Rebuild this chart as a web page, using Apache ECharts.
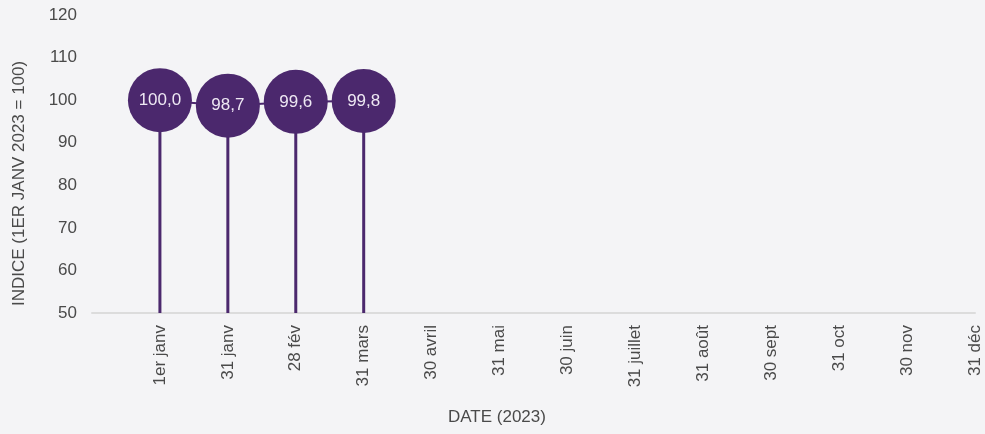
<!DOCTYPE html>
<html>
<head>
<meta charset="utf-8">
<script src="https://cdn.jsdelivr.net/npm/echarts@6/dist/echarts.min.js"></script>
<style>
  html, body { margin: 0; padding: 0; background: #f4f4f6; }
  #chart { width: 985px; height: 434px; }
</style>
</head>
<body>
<div id="chart"></div>
<script>
const categories = ['', '1er janv', '31 janv', '28 fév', '31 mars', '30 avril', '31 mai', '30 juin', '31 juillet', '31 août', '30 sept', '31 oct', '30 nov', '31 déc'];
const indexValues = ['-', 100.0, 98.7, 99.6, 99.8, '-', '-', '-', '-', '-', '-', '-', '-', '-'];
const yTicks = { min: 50, max: 120, interval: 10 };
const xAxisTitle = 'DATE (2023)';
const yAxisTitle = 'INDICE (1ER JANV 2023 = 100)';

const purple = '#4b286d';
const font = "'Liberation Sans', Arial, sans-serif";
const textColor = '#4a4a4a';

const chart = echarts.init(document.getElementById('chart'));
chart.setOption({
  backgroundColor: '#f4f4f6',
  animation: false,
  grid: { left: 92, right: 10, top: 15, bottom: 121, containLabel: false },
  xAxis: {
    type: 'category',
    data: categories,
    boundaryGap: false,
    axisLine: { lineStyle: { color: '#dcdcdc', width: 2 } },
    axisTick: { show: false },
    axisLabel: { rotate: 90, interval: 0, margin: 12, color: textColor, fontSize: 17, fontFamily: font },
    splitLine: { show: false }
  },
  yAxis: {
    type: 'value',
    min: yTicks.min, max: yTicks.max, interval: yTicks.interval,
    axisLine: { show: false },
    axisTick: { show: false },
    splitLine: { show: false },
    axisLabel: { color: textColor, fontSize: 17, fontFamily: font, margin: 15 }
  },
  graphic: [
    { type: 'text', left: 448, top: 409, style: { text: xAxisTitle, fill: textColor, font: '17px ' + font } },
    { type: 'text', x: 11, y: 306, rotation: Math.PI / 2, style: { text: yAxisTitle, fill: textColor, font: '17px ' + font } }
  ],
  series: [
    {
      type: 'bar',
      data: indexValues,
      barWidth: 3,
      itemStyle: { color: purple },
      z: 1,
      silent: true
    },
    {
      type: 'line',
      data: indexValues,
      symbol: 'circle',
      symbolSize: 64,
      lineStyle: { color: purple, width: 2 },
      itemStyle: { color: purple },
      z: 3,
      label: {
        show: true,
        position: 'inside',
        color: '#eee8f3',
        fontSize: 17,
        fontFamily: font,
        formatter: p => Number(p.value).toFixed(1).replace('.', ',')
      }
    }
  ]
});
</script>
</body>
</html>
